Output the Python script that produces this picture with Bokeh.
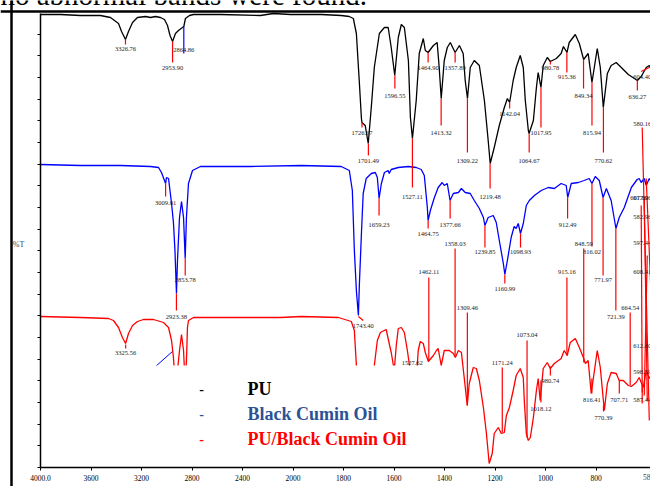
import numpy as np
from bokeh.plotting import figure
from bokeh.models import (Range1d, FixedTicker, Span, BoxAnnotation, Label, ColumnDataSource,
                          CustomJSTickFormatter)
from bokeh.core.properties import value
from bokeh.embed import file_html
from bokeh.resources import INLINE

# ---------------- data (wavenumber cm-1, transmittance a.u. with vertical offsets) -------------
PU_WN = [4000, 3842, 3683, 3525, 3446, 3382, 3358, 3327, 3303, 3271, 3232, 3168, 3129, 3089, 3050,
         3018, 2994, 2974, 2954, 2931, 2907, 2865, 2852, 2820, 2788, 2574, 2258, 2155, 2020, 1888,
         1809, 1777, 1761, 1749, 1737, 1729, 1727, 1714, 1702, 1690, 1678, 1658, 1638, 1623, 1611,
         1597, 1583, 1571, 1559, 1543, 1535, 1527, 1512, 1500, 1484, 1476, 1465, 1444, 1429, 1421,
         1413, 1401, 1389, 1377, 1358, 1341, 1326, 1318, 1309, 1298, 1282, 1262, 1242, 1227, 1219,
         1203, 1183, 1163, 1151, 1142, 1128, 1116, 1100, 1088, 1080, 1068, 1065, 1048, 1036, 1029,
         1018, 1009, 993, 981, 957, 938, 929, 915, 906, 882, 866, 849, 831, 816, 795, 783, 771,
         755, 740, 720, 700, 672, 636, 621, 601, 589, 577]
PU_T = [453, 453, 452, 452, 450, 444, 436, 428, 436, 445, 450, 451, 450, 451, 450,
        448, 442, 432, 426, 434, 437, 441, 449, 452, 453, 453, 452, 454, 453, 453,
        452, 451, 449, 434, 384, 349, 345, 342, 324, 360, 400, 434, 440, 440, 420,
        392, 430, 443, 440, 407, 350, 329, 367, 414, 429, 417, 415, 422, 425, 400,
        369, 407, 420, 425, 415, 422, 414, 387, 369, 400, 407, 402, 367, 327, 304,
        320, 342, 360, 369, 365, 387, 400, 412, 400, 367, 337, 334, 347, 380, 395,
        380, 402, 410, 406, 409, 414, 421, 415, 425, 433, 424, 408, 414, 385, 419, 400, 360,
        394, 402, 405, 400, 393, 387, 391, 400, 402, 397]

BCO_WN = [4000, 3683, 3366, 3129, 3065, 3042, 3009, 3002, 2986, 2962, 2947, 2935, 2923, 2915,
          2899, 2883, 2867, 2854, 2844, 2828, 2796, 2733, 2337, 1967, 1809, 1777, 1765, 1757,
          1749, 1741, 1737, 1729, 1722, 1710, 1690, 1674, 1666, 1659, 1650, 1638, 1623, 1619,
          1611, 1583, 1543, 1512, 1492, 1480, 1468, 1465, 1456, 1440, 1425, 1409, 1401, 1389,
          1378, 1365, 1345, 1333, 1318, 1298, 1282, 1262, 1246, 1240, 1227, 1207, 1195, 1183,
          1167, 1161, 1151, 1136, 1124, 1116, 1108, 1099, 1088, 1076, 1064, 1044, 1017, 989,
          965, 938, 918, 912, 898, 870, 847, 827, 816, 803, 787, 772, 759, 740, 721, 708, 688,
          660, 637, 629, 621, 609, 601, 589, 577]
BCO_T = [303, 302, 302, 301, 300, 295, 284, 290, 289, 264, 245, 217, 174, 207,
         250, 266, 250, 209, 250, 284, 297, 301, 301, 302, 301, 297, 277, 217,
         177, 152, 184, 234, 274, 289, 294, 295, 290, 269, 284, 295, 297, 294,
         298, 300, 301, 300, 298, 292, 260, 247, 257, 270, 280, 285, 282, 284,
         267, 274, 275, 279, 275, 274, 267, 259, 250, 242, 250, 252, 245, 227,
         204, 193, 207, 230, 241, 239, 244, 234, 244, 262, 267, 272, 277, 280,
         279, 284, 282, 270, 284, 285, 287, 289, 284, 291, 287, 270, 279, 267, 239, 250, 260,
         280, 288, 289, 285, 289, 282, 289, 284]

PUBCO_WN = [4000, 3683, 3461, 3422, 3382, 3351, 3326, 3303, 3271, 3232, 3184, 3105, 3026, 2986,
            2962, 2947, 2923, 2915, 2899, 2883, 2867, 2854, 2844, 2836, 2828, 2788, 2337, 2099,
            1967, 1820, 1769, 1757, 1749, 1737, 1725, 1706, 1690, 1678, 1666, 1654, 1631, 1619,
            1611, 1599, 1591, 1583, 1571, 1559, 1547, 1535, 1524, 1512, 1504, 1496, 1484, 1476,
            1464, 1444, 1432, 1425, 1413, 1401, 1381, 1365, 1357, 1345, 1333, 1322, 1310, 1302,
            1286, 1274, 1262, 1246, 1234, 1223, 1211, 1203, 1187, 1175, 1163, 1155, 1143, 1128,
            1116, 1100, 1088, 1084, 1076, 1068, 1060, 1048, 1036, 1029, 1021, 1009, 993, 981, 965,
            938, 926, 914, 902, 882, 866, 850, 842, 831, 819, 795, 783, 767, 755, 740, 720, 708,
            692, 672, 660, 641, 629, 613, 601, 589, 577]
PUBCO_T = [151, 150, 149, 147, 140, 130, 124, 134, 142, 146, 148, 148, 145, 140,
           127, 110, 67, 97, 117, 133, 117, 82, 107, 140, 147, 150, 150, 150,
           151, 150, 146, 137, 102, 47, 27, 22, 57, 102, 127, 135, 138, 124,
           115, 97, 122, 139, 140, 135, 117, 95, 70, 87, 117, 126, 124, 115,
           106, 112, 117, 119, 102, 117, 117, 114, 110, 117, 115, 90, 62, 84,
           100, 99, 87, 60, 34, 4, 14, 34, 40, 34, 35, 52, 60, 77,
           92, 99, 90, 67, 34, 27, 30, 50, 77, 89, 67, 99, 105, 99, 104,
           109, 117, 112, 125, 129, 120, 110, 104, 107, 74, 117, 100, 57, 84, 95, 94, 87,
           87, 82, 81, 85, 90, 80, 97, 89, 95]

X_TICKS_WN = [4000, 3600, 3200, 2800, 2400, 2000, 1800, 1600, 1400, 1200, 1000, 800]
X_TICK_LABELS = ["4000.0", "3600", "3200", "2800", "2400", "2000", "1800", "1600", "1400",
                 "1200", "1000", "800"]
SERIES_NAMES = ["PU", "Black Cumin Oil", "PU/Black Cumin Oil"]
PAGE_TEXT = "no abnormal bands were found."

# peak annotations: (label, line start T, line end T, text T)
PU_PEAKS = [("3326.76", 428, 423, 419), ("2953.90", 426, 405, 400), ("1726.67", 345, 340, 335),
            ("1701.49", 324, 312, 307), ("1596.55", 392, 379, 372), ("1527.11", 329, 280, 271),
            ("1464.90", 415, 405, 400), ("1413.32", 369, 342, 335), ("1357.89", 415, 405, 400),
            ("1309.22", 369, 315, 307), ("1219.48", 304, 279, 271), ("1142.04", 365, 359, 354),
            ("1064.67", 334, 315, 307), ("1017.95", 380, 340, 335), ("980.78", 406, 403, 400),
            ("915.36", 415, 395, 391), ("849.34", 408, 379, 372), ("815.94", 385, 342, 335),
            ("770.62", 360, 315, 307), ("636.27", 387, 377, 371)]
PU_BLUE_PEAKS = [("2864.86", 441, 414, 418)]
BCO_PEAKS = [("3009.01", 284, 271, 265), ("2923.38", 174, 157, 151), ("2853.78", 209, 192, 188),
             ("1659.23", 269, 252, 243), ("1464.75", 247, 239, 234), ("1377.66", 267, 249, 243),
             ("1239.85", 242, 220, 216), ("1160.99", 193, 184, 179), ("1098.93", 234, 220, 216),
             ("912.49", 270, 249, 243), ("816.02", 284, 221, 216), ("771.97", 270, 192, 188),
             ("721.39", 239, 157, 151)]
PUBCO_PEAKS = [("3325.56", 123, 119, 115), ("1462.11", 190, 107, 196), ("1358.03", 219, 112, 224),
               ("1309.46", 155, 62, 160), ("1171.24", 100, 35, 105), ("1073.04", 127, 30, 133),
               ("980.74", 101, 92, 87), ("1018.12", 87, 65, 59), ("915.16", 190, 112, 196),
               ("848.59", 219, 105, 224), ("816.41", 89, 74, 68), ("770.39", 62, 56, 50),
               ("707.71", 87, 74, 68), ("664.54", 155, 82, 160)]
# crowded labels at the low-wavenumber edge: (label, x wn, text T)
EDGE_LABELS = [("604.40", 617, 391), ("580.16", 617, 344), ("607.80", 629, 270), ("617.96", 617, 270),
               ("582.96", 617, 251), ("597.44", 617, 225), ("608.41", 617, 196), ("612.60", 617, 122),
               ("598.59", 617, 96), ("587.44", 617, 68), ("1743.40", 1722, 142), ("1527.62", 1527.5, 105)]
# leader lines at the edge: (wn0, T0, wn1, T1)
EDGE_LINES = [(617, 340, 589, 47), (609, 271, 597, 67), (621, 262, 617, 75), (601, 289, 581, 167),
              (597, 212, 609, 72), (621, 396, 581, 401), (617, 64, 617, 82), (1741, 151, 1722, 147)]


def xu(wn):
    wn = np.asarray(wn, dtype=float)
    return np.where(wn >= 2000, (4000 - wn) / 2.0, 1000 + (2000 - wn))


SERIF = "Liberation Serif"

# the frame fills the whole canvas; the spectrum axes are drawn inside it
p = figure(width=650, height=486, output_backend="svg", toolbar_location=None,
           x_range=Range1d(-158.42, 2415.84), y_range=Range1d(-19, 467),
           min_border_left=0, min_border_right=0, min_border_top=0, min_border_bottom=0)
p.background_fill_color = "white"
p.border_fill_color = "white"
p.outline_line_color = None
p.grid.visible = False

xa = p.xaxis[0]
xa.fixed_location = 0
xa.bounds = (0, 2420)
xa.ticker = FixedTicker(ticks=[float(v) for v in xu(X_TICKS_WN)])
xa.major_label_overrides = {int(u): lab for u, lab in zip(xu(X_TICKS_WN), X_TICK_LABELS)}
xa.minor_tick_line_color = None
xa.major_tick_in = 0
xa.major_tick_out = 3
xa.axis_line_width = 1.5
xa.major_tick_line_width = 1
xa.major_label_text_font = SERIF
xa.major_label_text_font_size = "7.5px"
xa.major_label_text_color = "black"
xa.major_label_standoff = 4
xa.axis_label = "cm⁻¹"
xa.axis_label_text_font = SERIF
xa.axis_label_text_font_style = "normal"
xa.axis_label_text_font_size = "8px"
xa.axis_label_text_color = "black"
xa.axis_label_standoff = 2

ya = p.yaxis[0]
ya.fixed_location = 0
ya.bounds = (0, 454)
ya.ticker = FixedTicker(ticks=[21.67 * k for k in range(21)])
ya.formatter = CustomJSTickFormatter(code="return ''")
ya.minor_tick_line_color = None
ya.major_tick_in = 0
ya.major_tick_out = 3
ya.axis_line_width = 1.5

# spectra
p.line(xu(PU_WN), PU_T, line_color="black", line_width=1.3)
p.line(xu(BCO_WN), BCO_T, line_color="#0000ff", line_width=1.3)
p.line(xu(PUBCO_WN), PUBCO_T, line_color="#ff0000", line_width=1.3)
p.segment(x0=xu([3089]), y0=[101], x1=xu([2955]), y1=[116], line_color="#0000ff", line_width=1)


def add_peaks(peaks, line_color):
    wn = [float(t[0]) for t in peaks]
    src = ColumnDataSource(dict(x=xu(wn), y0=[t[1] for t in peaks], y1=[t[2] for t in peaks],
                                ty=[t[3] for t in peaks], text=[t[0] for t in peaks]))
    p.segment(x0="x", y0="y0", x1="x", y1="y1", source=src, line_color=line_color, line_width=1.2)
    p.text(x="x", y="ty", text="text", source=src, text_font=value(SERIF), text_font_size="6.5px",
           text_align="center", text_baseline="middle", text_color="#222222")


add_peaks(PU_PEAKS, "#ff0000")
add_peaks(PU_BLUE_PEAKS, "#0000ff")
add_peaks(BCO_PEAKS, "#ff0000")
add_peaks(PUBCO_PEAKS, "#ff0000")

p.segment(x0=xu([l[0] for l in EDGE_LINES]), y0=[l[1] for l in EDGE_LINES],
          x1=xu([l[2] for l in EDGE_LINES]), y1=[l[3] for l in EDGE_LINES],
          line_color="#ff0000", line_width=1.2)
p.text(x=xu([e[1] for e in EDGE_LABELS]), y=[e[2] for e in EDGE_LABELS], text=[e[0] for e in EDGE_LABELS],
       text_font=value(SERIF), text_font_size="6.5px", text_align="center", text_baseline="middle",
       text_color="#222222")

# cut-off line of page text above the figure
p.text(x=[-158.42], y=[463], text=[PAGE_TEXT], text_font=value(SERIF), text_font_size="29px",
       text_align="left", text_baseline="alphabetic", text_color="black", y_offset=-10)

# legend panel (white box hiding the curves beneath it)
p.add_layout(BoxAnnotation(left=float(xu(3129)), right=float(xu(1476)), top=102, bottom=5,
                           fill_color="white", fill_alpha=1.0, line_color=None))
legend_colors = ["black", "#2b5294", "#ff0000"]
for name, col, ty in zip(SERIES_NAMES, legend_colors, [79, 54, 29]):
    p.add_layout(Label(x=float(xu(2725)), y=ty, text="-", text_color=col, text_font=SERIF,
                       text_font_size="14px", text_font_style="bold", text_align="center",
                       text_baseline="middle"))
    p.add_layout(Label(x=float(xu(2361)), y=ty, text=name, text_color=col, text_font=SERIF,
                       text_font_size="18px", text_font_style="bold", text_align="left",
                       text_baseline="middle"))

# y axis title, last tick label and the page frame
p.add_layout(Label(x=-87, y=223, text="%T", text_font=SERIF, text_font_size="8px",
                   text_align="center", text_baseline="middle"))
p.add_layout(Label(x=float(xu(580)), y=-9, text="580.0", text_font=SERIF, text_font_size="7.5px",
                   text_align="center", text_baseline="middle"))
p.add_layout(Span(location=-114.85, dimension="height", line_color="black", line_width=2.5))
p.add_layout(Span(location=456, dimension="width", line_color="black", line_width=2.5))

open("out.html", "w").write(file_html(p, INLINE))
